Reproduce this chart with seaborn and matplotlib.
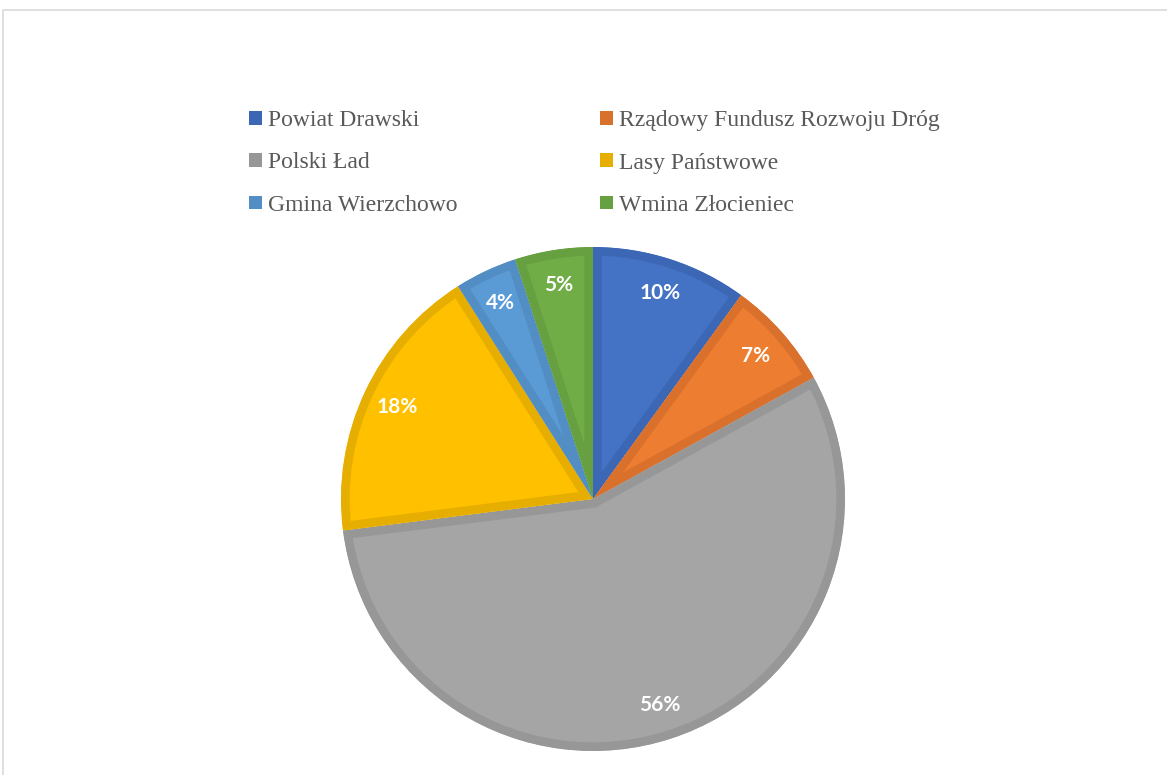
import matplotlib
matplotlib.use("Agg")
import matplotlib.pyplot as plt
import seaborn as sns
from matplotlib.patches import Patch, Rectangle, Wedge
from matplotlib.font_manager import FontProperties, findfont

sns.set_theme(style="white")

categories = ["Powiat Drawski", "Rządowy Fundusz Rozwoju Dróg", "Polski Ład",
              "Lasy Państwowe", "Gmina Wierzchowo", "Wmina Złocieniec"]
values = [10, 7, 56, 18, 4, 5]
fill_colors = ["#4472C4", "#ED7D31", "#A5A5A5", "#FFC000", "#5B9BD5", "#70AD47"]
edge_colors = ["#3C67B5", "#D9702B", "#979797", "#E6AE00", "#528DC3", "#66A040"]

W, H = 1167, 775
fig = plt.figure(figsize=(W / 100, H / 100), dpi=100)
fig.patch.set_facecolor("white")

# outer frame
fig.patches.append(Rectangle((3 / W, -0.1), 1.2, (H - 10) / H + 0.1,
                             transform=fig.transFigure, fill=False,
                             edgecolor="#D9D9D9", linewidth=1.2))

cx, cy, r = 593, 499, 252
ax = fig.add_axes([(cx - r) / W, (H - cy - r) / H, 2 * r / W, 2 * r / H])
wedges, texts, autotexts = ax.pie(
    values, colors=fill_colors, startangle=90, counterclock=False,
    autopct="%1.0f%%", pctdistance=0.86, radius=1.0,
    wedgeprops=dict(linewidth=12.5),
    textprops=dict(color="white", fontsize=15, fontweight="bold",
                   family=["Lato", "DejaVu Sans"]))
ax.set_xlim(-1, 1)
ax.set_ylim(-1, 1)
ax.set_aspect("equal")
ax.axis("off")
for w, ec in zip(wedges, edge_colors):
    w.set_edgecolor(ec)
    clip = Wedge((0, 0), 1.0, w.theta1, w.theta2, transform=ax.transData)
    w.set_clip_on(True)
    w.set_clip_path(clip)

# legend (row-major order in two columns)
serif_file = findfont(FontProperties(family="Liberation Serif"))
legend_font = FontProperties(fname=serif_file, size=17)
handles = [Patch(facecolor=c, edgecolor="none") for c in edge_colors]
order = [0, 2, 4, 1, 3, 5]
leg = fig.legend([handles[i] for i in order], [categories[i] for i in order],
                 ncol=2, loc="upper left", bbox_to_anchor=(228 / W, 1 - 89 / H),
                 frameon=False, handlelength=0.55, handleheight=0.5,
                 handletextpad=0.25, columnspacing=6.05, labelspacing=0.9,
                 prop=legend_font)
for t in leg.get_texts():
    t.set_color("#595959")

fig.savefig("out.png", dpi=100)
